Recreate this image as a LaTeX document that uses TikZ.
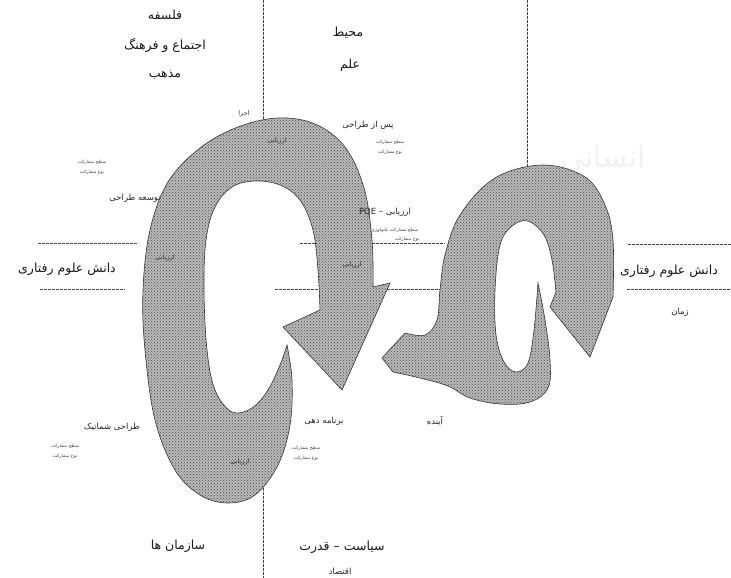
\documentclass[tikz,border=0pt]{standalone}
\usepackage{fontspec}
\newfontfamily\fa[Script=Arabic]{DejaVu Sans}
\TeXXeTstate=1
\usetikzlibrary{patterns}
\newcommand{\myR}[1]{\beginR #1\endR}
\begin{document}
\begin{tikzpicture}[x=1pt,y=-1pt,
 lbl/.style={font=\fa\fontsize{12.5}{14}\selectfont, text=black!90, inner sep=0pt},
 mid/.style={font=\fa\fontsize{8.5}{10}\selectfont, text=black!85, inner sep=0pt},
 sml/.style={font=\fa\fontsize{6.5}{7}\selectfont, text=black!80, inner sep=0pt},
 tiny/.style={font=\fa\fontsize{4.5}{5}\selectfont, text=black!75, inner sep=0pt},
 wmark/.style={font=\fa\fontsize{30}{32}\selectfont, text=gray!10, inner sep=0pt},
 band/.style={fill=gray!55, draw=gray!40!black, line width=.6pt,
   postaction={pattern=crosshatch dots, pattern color=gray!60!black}},
 guide/.style={draw=gray!55!black, line width=.6pt, dash pattern=on 3pt off 1pt}]
\useasboundingbox (0,0) rectangle (731,578);
\clip (0,0) rectangle (731,578);
\fill[white] (0,0) rectangle (731,578);
% watermark
\node[wmark] (wm1) at (603,158) {\myR{انسانی}};
% guide lines
\draw[guide] (263,0) -- (263,124);
\draw[guide] (263,480) -- (263,578);
\draw[guide] (527,0) -- (527,170);
\draw[guide] (38,243) -- (138,243);
\draw[guide] (40,289) -- (125,289);
\draw[guide] (300,243) -- (445,243);
\draw[guide] (275,289) -- (445,289);
\draw[guide] (628,244) -- (731,244);
\draw[guide] (627,289) -- (731,289);
% big spiral arrow
\path[band] plot[smooth, tension=0.6] coordinates {(287,345) (292,380) (290,425) (278,465) (255,495) (228,503) (200,495) (175,470) (155,420) (145,350) (143,290) (150,230) (168,182) (200,148) (238,127) (278,118) (315,124) (345,147) (364,188) (372,240) (373,287)}
 -- (390,283) -- (342,390) -- (283,327) -- (320,310)
 -- plot[smooth, tension=0.6] coordinates {(320,310) (318,270) (313,230) (300,200) (280,185) (255,181) (232,187) (215,207) (206,240) (204,290) (207,350) (215,390) (232,412) (252,408) (268,390) (280,365) (287,345)}
 -- cycle;
% small spiral arrow
\path[band] plot[smooth, tension=0.6] coordinates {(538,283) (545,320) (550,360) (548,388) (530,402) (500,404) (470,398) (448,386) (420,378) (393,372)}
 -- (382,358) -- (405,333)
 -- plot[smooth, tension=0.6] coordinates {(405,333) (425,335) (437,320) (440,290) (445,255) (460,215) (495,178) (543,165) (585,177) (605,205) (613,240) (613,297)}
 -- (590,357) -- (550,307) -- (556,292)
 -- plot[smooth, tension=0.6] coordinates {(556,292) (552,260) (544,235) (528,221) (512,226) (500,245) (495,290) (496,335) (504,362) (516,372) (528,363) (534,330) (538,283)}
 -- cycle;
% labels
\node[lbl] (fal) at (165,15) {\myR{فلسفه}};
\node[lbl] (ejt) at (165,45) {\myR{اجتماع و فرهنگ}};
\node[lbl] (maz) at (165,75) {\myR{مذهب}};
\node[lbl] (moh) at (348,33) {\myR{محیط}};
\node[lbl] (elm) at (350,65) {\myR{علم}};
\node[mid] (pas) at (368,125) {\myR{پس از طراحی}};
\node[tiny] (pas1) at (390,142) {\myR{سطح مشارکت}};
\node[tiny] (pas2) at (390,152) {\myR{نوع مشارکت}};
\node[sml] (ejr) at (244,114) {\myR{اجرا}};
\node[sml] (arz1) at (277,141) {\myR{ارزیابی}};
\node[tiny] (ls1) at (92,162) {\myR{سطح مشارکت}};
\node[tiny] (ls2) at (92,172) {\myR{نوع مشارکت}};
\node[mid] (tos) at (135,198) {\myR{توسعه طراحی}};
\node[sml] (arz2) at (165,258) {\myR{ارزیابی}};
\node[mid] (pqe) at (385,212) {\myR{ارزیابی – \beginL PQE\endL}};
\node[tiny] (pqe1) at (395,230) {\myR{سطح مشارکت تکنولوژی}};
\node[tiny] (pqe2) at (407,239) {\myR{نوع مشارکت}};
\node[sml] (arz3) at (352,265) {\myR{ارزیابی}};
\node[lbl, anchor=east] (dl) at (116,269) {\myR{دانش علوم رفتاری}};
\node[lbl] (dr) at (669,271) {\myR{دانش علوم رفتاری}};
\node[mid] (zam) at (680,312) {\myR{زمان}};
\node[mid] (sch) at (112,427) {\myR{طراحی شماتیک}};
\node[tiny] (sch1) at (65,446) {\myR{سطح مشارکت}};
\node[tiny] (sch2) at (65,456) {\myR{نوع مشارکت}};
\node[sml] (arz4) at (240,462) {\myR{ارزیابی}};
\node[mid] (bar) at (324,421) {\myR{برنامه دهی}};
\node[tiny] (bar1) at (306,448) {\myR{سطح مشارکت}};
\node[tiny] (bar2) at (306,458) {\myR{نوع مشارکت}};
\node[mid] (ayn) at (435,421) {\myR{آینده}};
\node[lbl] (saz) at (178,546) {\myR{سازمان ها}};
\node[lbl] (sia) at (342,547) {\myR{سیاست – قدرت}};
\node[mid] (eqt) at (340,571) {\myR{اقتصاد}};
\end{tikzpicture}
\end{document}
